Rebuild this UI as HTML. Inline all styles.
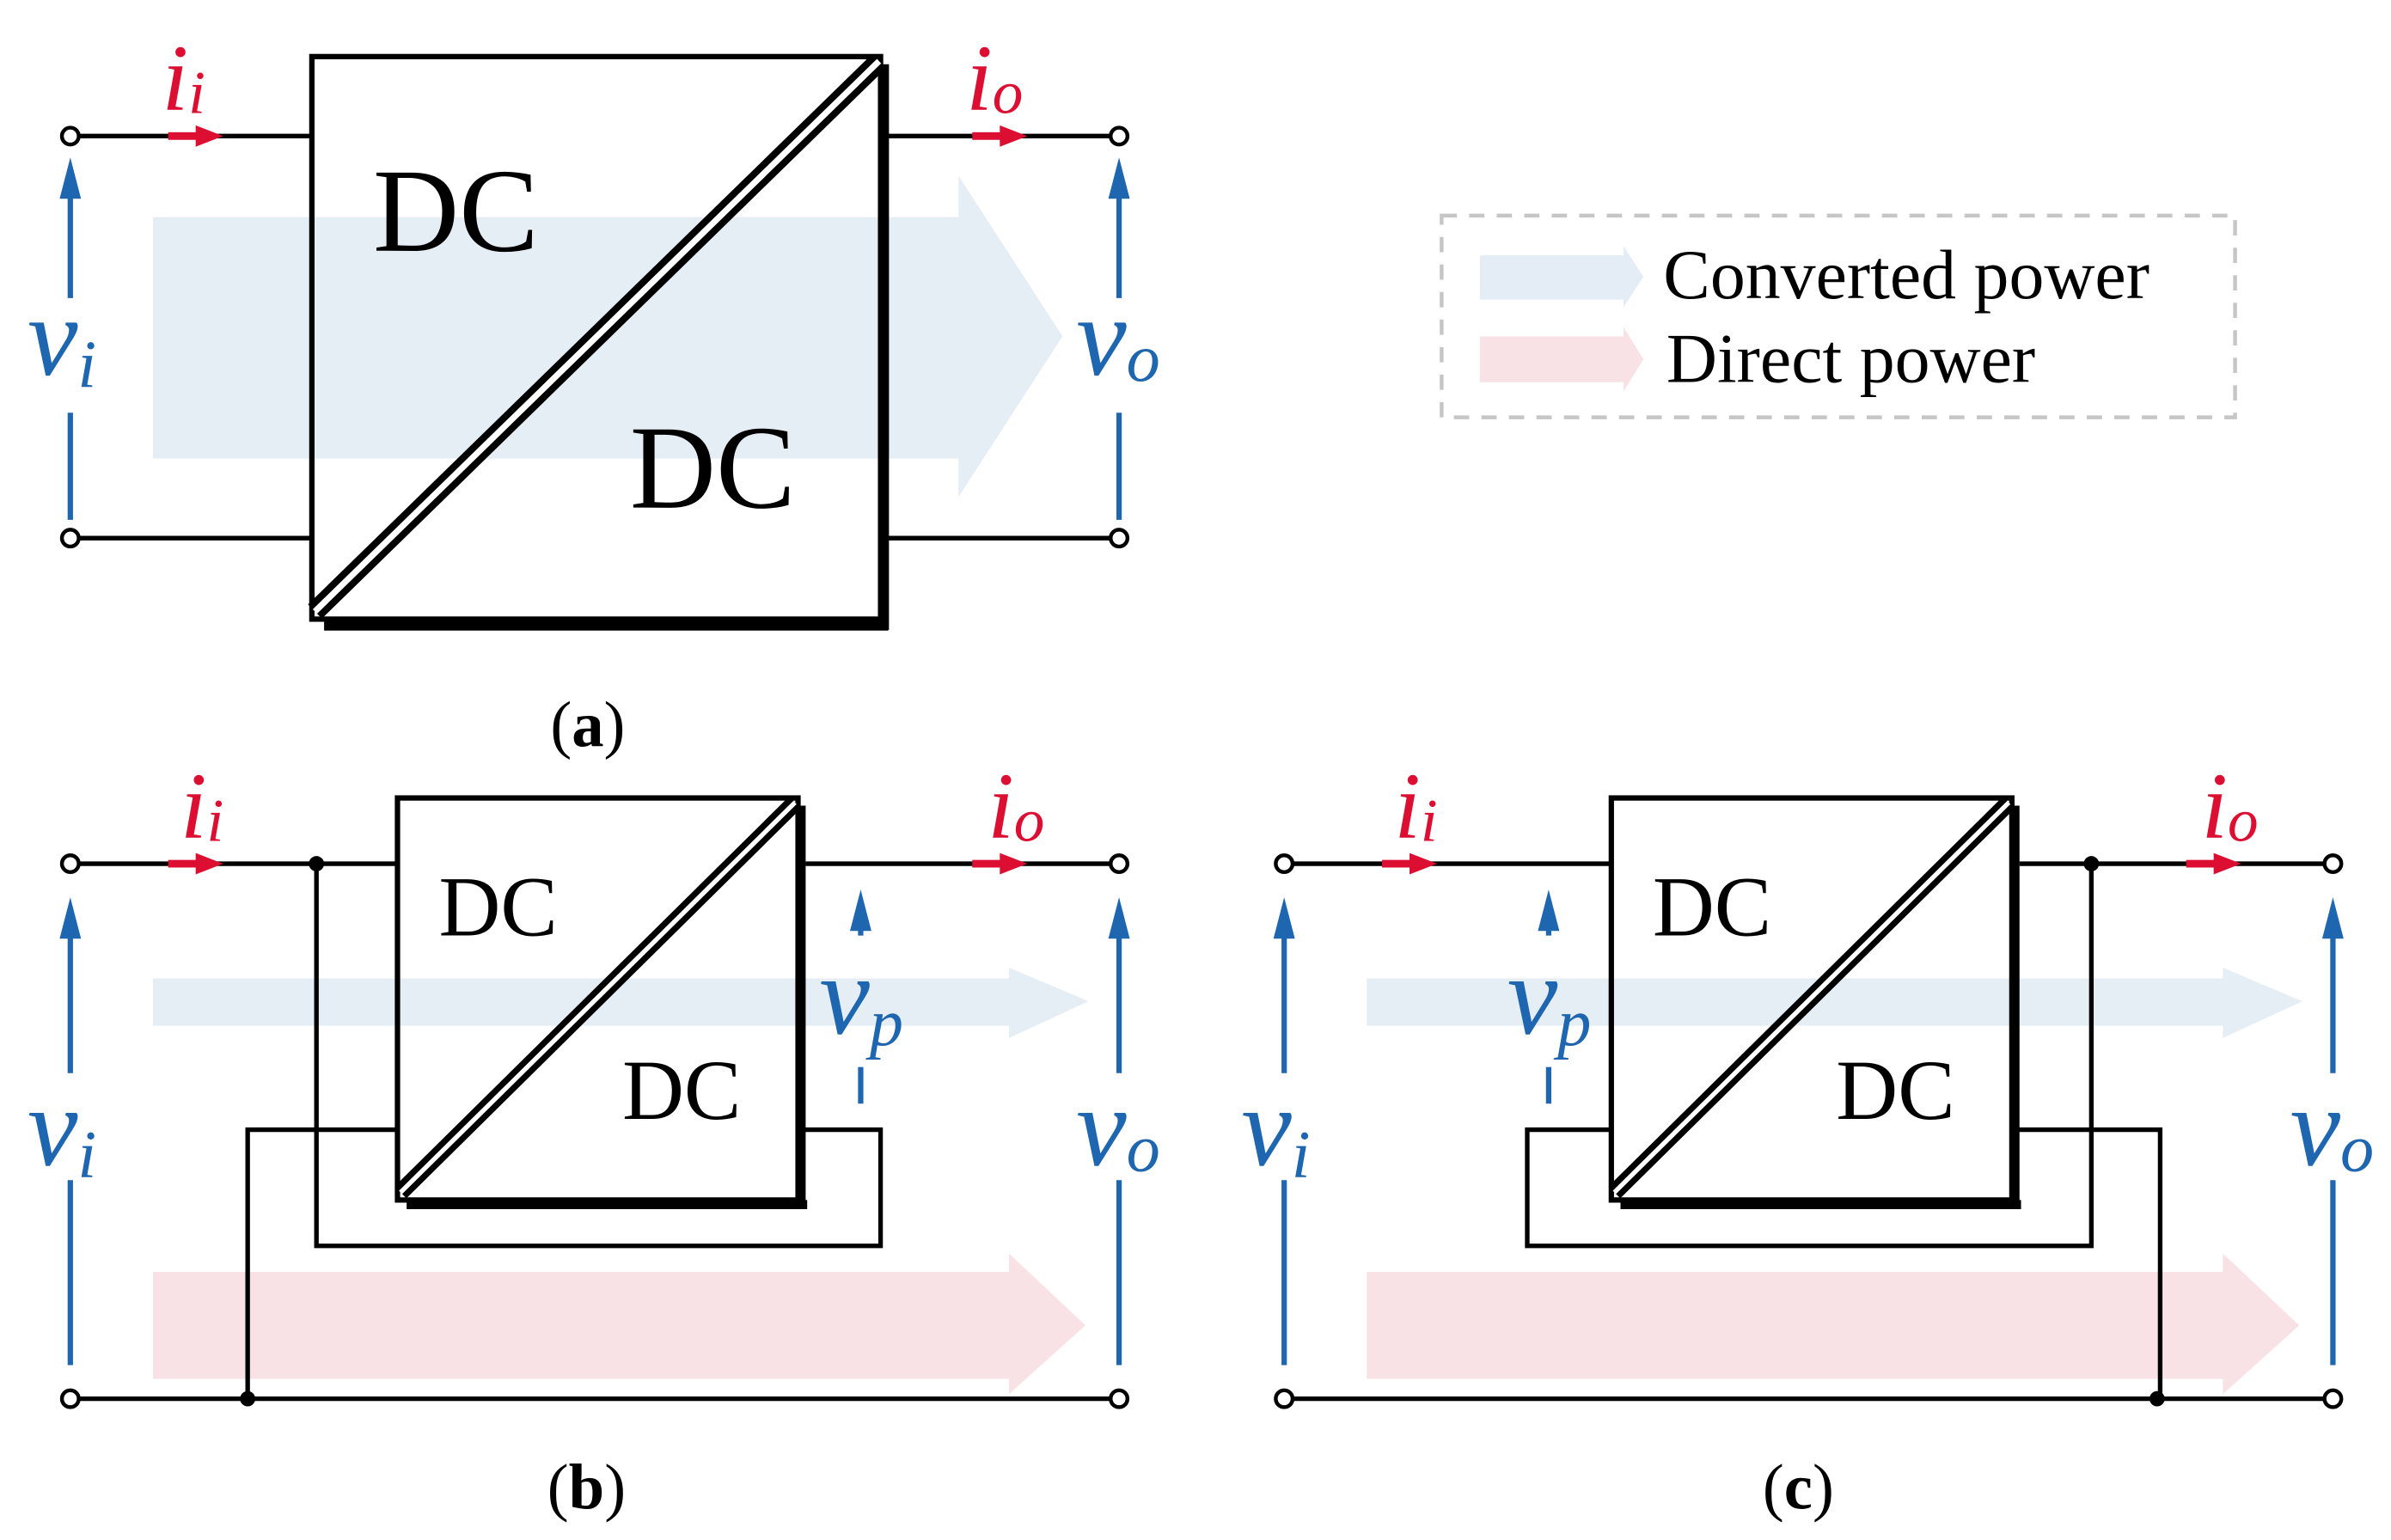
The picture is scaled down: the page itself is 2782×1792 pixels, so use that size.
<!DOCTYPE html>
<html><head><meta charset="utf-8"><style>
html,body{margin:0;padding:0;background:#fff;}
svg{display:block;}
text{font-family:"Liberation Serif",serif;}
.v{font-style:italic;fill:#1f66b0;}
.r{font-style:italic;fill:#dc0f32;}
</style></head><body>
<svg width="2782" height="1792" viewBox="0 0 1564 1007.4" xmlns="http://www.w3.org/2000/svg">
<g fill="none" stroke="#000" stroke-width="3">
<line x1="52" y1="89" x2="204" y2="89"/>
<line x1="52" y1="352" x2="204" y2="352"/>
<line x1="580" y1="89" x2="726" y2="89"/>
<line x1="580" y1="352" x2="726" y2="352"/>
</g>
<polygon points="100,142 627,142 627,115 695,220 627,325 627,300 100,300" fill="#dce7f2" opacity="0.75"/>
<g fill="none" stroke="#000">
<rect x="204" y="37" width="372" height="368" stroke-width="3.5"/>
<line x1="212" y1="409" x2="581" y2="409" stroke-width="7"/>
<line x1="578" y1="42" x2="578" y2="412" stroke-width="7"/>
<line x1="206" y1="400" x2="575" y2="40" stroke-width="13"/>
<line x1="206" y1="400" x2="575" y2="40" stroke="#fff" stroke-width="4"/>
</g>
<text x="244" y="164" font-size="78">DC</text>
<text x="412" y="332" font-size="78">DC</text>
<g fill="#fff" stroke="#000" stroke-width="2.5">
<circle cx="46" cy="89" r="5.5"/><circle cx="46" cy="352" r="5.5"/>
<circle cx="732" cy="89" r="5.5"/><circle cx="732" cy="352" r="5.5"/>
</g>
<g fill="#dc0f32" stroke="#dc0f32">
<line x1="110" y1="89" x2="132" y2="89" stroke-width="5"/><polygon points="128,82 146,89 128,96" stroke="none"/>
<line x1="636" y1="89" x2="658" y2="89" stroke-width="5"/><polygon points="654,82 672,89 654,96" stroke="none"/>
</g>
<text class="r" x="106" y="72" font-size="62">i<tspan font-size="40" dy="2">i</tspan></text>
<text class="r" x="632" y="72" font-size="62">i<tspan font-size="40" dy="2">o</tspan></text>
<g stroke="#1f66b0" stroke-width="3.5" fill="#1f66b0">
<line x1="46" y1="340" x2="46" y2="270"/><line x1="46" y1="195" x2="46" y2="120"/>
<polygon points="39,130 46,103 53,130" stroke="none"/>
<line x1="732" y1="340" x2="732" y2="270"/><line x1="732" y1="195" x2="732" y2="120"/>
<polygon points="725,130 732,103 739,130" stroke="none"/>
</g>
<text class="v" x="18" y="245" font-size="74">v<tspan font-size="44" dy="8">i</tspan></text>
<text class="v" x="704" y="245" font-size="74">v<tspan font-size="44" dy="4">o</tspan></text>
<text x="360" y="488" font-size="42">(<tspan font-weight="bold">a</tspan>)</text>

<rect x="943" y="141" width="519" height="132" fill="none" stroke="#c6c6c6" stroke-width="2.5" stroke-dasharray="10,8"/>
<polygon points="968,167 1062,167 1062,161 1075,181 1062,201 1062,196 968,196" fill="#e4edf5"/>
<polygon points="968,220 1062,220 1062,214 1075,235 1062,256 1062,250 968,250" fill="#f9e2e6"/>
<text x="1088" y="195" font-size="46">Converted power</text>
<text x="1090" y="250" font-size="46">Direct power</text>

<polygon points="100,640 660,640 660,633 712,655 660,679 660,671 100,671" fill="#dce7f2" opacity="0.75"/>
<polygon points="100,832 660,832 660,820 710,867 660,912 660,902 100,902" fill="#f9e2e6"/>
<g transform="translate(794,0)">
<polygon points="100,640 660,640 660,633 712,655 660,679 660,671 100,671" fill="#dce7f2" opacity="0.75"/>
<polygon points="100,832 660,832 660,820 710,867 660,912 660,902 100,902" fill="#f9e2e6"/>
</g>
<g fill="none" stroke="#000" stroke-width="3">
<line x1="52" y1="565" x2="260" y2="565"/>
<line x1="527" y1="565" x2="726" y2="565"/>
<line x1="52" y1="915" x2="726" y2="915"/>
<polyline points="207,565 207,815 576,815 576,739 524,739"/>
<polyline points="260,739 162,739 162,915"/>
<line x1="846" y1="565" x2="1054" y2="565"/>
<line x1="1321" y1="565" x2="1520" y2="565"/>
<line x1="846" y1="915" x2="1520" y2="915"/>
<polyline points="1368,565 1368,815 999,815 999,739 1054,739"/>
<polyline points="1318,739 1413,739 1413,915"/>
</g>
<g fill="none" stroke="#000">
<rect x="260" y="522" width="262" height="263" stroke-width="3.5"/>
<line x1="266" y1="788" x2="528" y2="788" stroke-width="6"/>
<line x1="524" y1="527" x2="524" y2="791" stroke-width="6"/>
<line x1="262" y1="780" x2="520" y2="525" stroke-width="11"/>
<line x1="262" y1="780" x2="520" y2="525" stroke="#fff" stroke-width="3"/>
<rect x="1054" y="522" width="262" height="263" stroke-width="3.5"/>
<line x1="1060" y1="788" x2="1322" y2="788" stroke-width="6"/>
<line x1="1318" y1="527" x2="1318" y2="791" stroke-width="6"/>
<line x1="1056" y1="780" x2="1314" y2="525" stroke-width="11"/>
<line x1="1056" y1="780" x2="1314" y2="525" stroke="#fff" stroke-width="3"/>
</g>
<text x="287" y="612" font-size="56">DC</text>
<text x="407" y="732" font-size="56">DC</text>
<text x="1081" y="612" font-size="56">DC</text>
<text x="1201" y="732" font-size="56">DC</text>
<g fill="#000"><circle cx="207" cy="565" r="5"/><circle cx="162" cy="915" r="5"/><circle cx="1368" cy="565" r="5"/><circle cx="1411" cy="915" r="5"/></g>
<g fill="#fff" stroke="#000" stroke-width="2.5">
<circle cx="46" cy="565" r="5.5"/><circle cx="46" cy="915" r="5.5"/>
<circle cx="732" cy="565" r="5.5"/><circle cx="732" cy="915" r="5.5"/>
<circle cx="840" cy="565" r="5.5"/><circle cx="840" cy="915" r="5.5"/>
<circle cx="1526" cy="565" r="5.5"/><circle cx="1526" cy="915" r="5.5"/>
</g>
<g fill="#dc0f32" stroke="#dc0f32">
<line x1="110" y1="565" x2="132" y2="565" stroke-width="5"/><polygon points="128,558 146,565 128,572" stroke="none"/>
<line x1="636" y1="565" x2="658" y2="565" stroke-width="5"/><polygon points="654,558 672,565 654,572" stroke="none"/>
<line x1="904" y1="565" x2="926" y2="565" stroke-width="5"/><polygon points="922,558 940,565 922,572" stroke="none"/>
<line x1="1430" y1="565" x2="1452" y2="565" stroke-width="5"/><polygon points="1448,558 1466,565 1448,572" stroke="none"/>
</g>
<text class="r" x="118" y="548" font-size="62">i<tspan font-size="40" dy="2">i</tspan></text>
<text class="r" x="646" y="548" font-size="62">i<tspan font-size="40" dy="2">o</tspan></text>
<text class="r" x="912" y="548" font-size="62">i<tspan font-size="40" dy="2">i</tspan></text>
<text class="r" x="1440" y="548" font-size="62">i<tspan font-size="40" dy="2">o</tspan></text>
<g stroke="#1f66b0" stroke-width="3.5" fill="#1f66b0">
<line x1="46" y1="893" x2="46" y2="772"/><line x1="46" y1="702" x2="46" y2="610"/><polygon points="39,614 46,587 53,614" stroke="none"/>
<line x1="732" y1="893" x2="732" y2="772"/><line x1="732" y1="702" x2="732" y2="610"/><polygon points="725,614 732,587 739,614" stroke="none"/>
<line x1="840" y1="893" x2="840" y2="772"/><line x1="840" y1="702" x2="840" y2="610"/><polygon points="833,614 840,587 847,614" stroke="none"/>
<line x1="1526" y1="893" x2="1526" y2="772"/><line x1="1526" y1="702" x2="1526" y2="610"/><polygon points="1519,614 1526,587 1533,614" stroke="none"/>
<line x1="563" y1="722" x2="563" y2="698"/><line x1="563" y1="612" x2="563" y2="600"/><polygon points="556,609 563,582 570,609" stroke="none"/>
<line x1="1013" y1="722" x2="1013" y2="698"/><line x1="1013" y1="612" x2="1013" y2="600"/><polygon points="1006,609 1013,582 1020,609" stroke="none"/>
</g>
<text class="v" x="18" y="762" font-size="74">v<tspan font-size="44" dy="8">i</tspan></text>
<text class="v" x="704" y="762" font-size="74">v<tspan font-size="44" dy="4">o</tspan></text>
<text class="v" x="812" y="762" font-size="74">v<tspan font-size="44" dy="8">i</tspan></text>
<text class="v" x="1498" y="762" font-size="74">v<tspan font-size="44" dy="4">o</tspan></text>
<text class="v" x="536" y="676" font-size="74">v<tspan font-size="44" dy="8">p</tspan></text>
<text class="v" x="986" y="676" font-size="74">v<tspan font-size="44" dy="8">p</tspan></text>
<text x="358" y="987" font-size="42">(<tspan font-weight="bold">b</tspan>)</text>
<text x="1153" y="987" font-size="42">(<tspan font-weight="bold">c</tspan>)</text>
</svg>
</body></html>
